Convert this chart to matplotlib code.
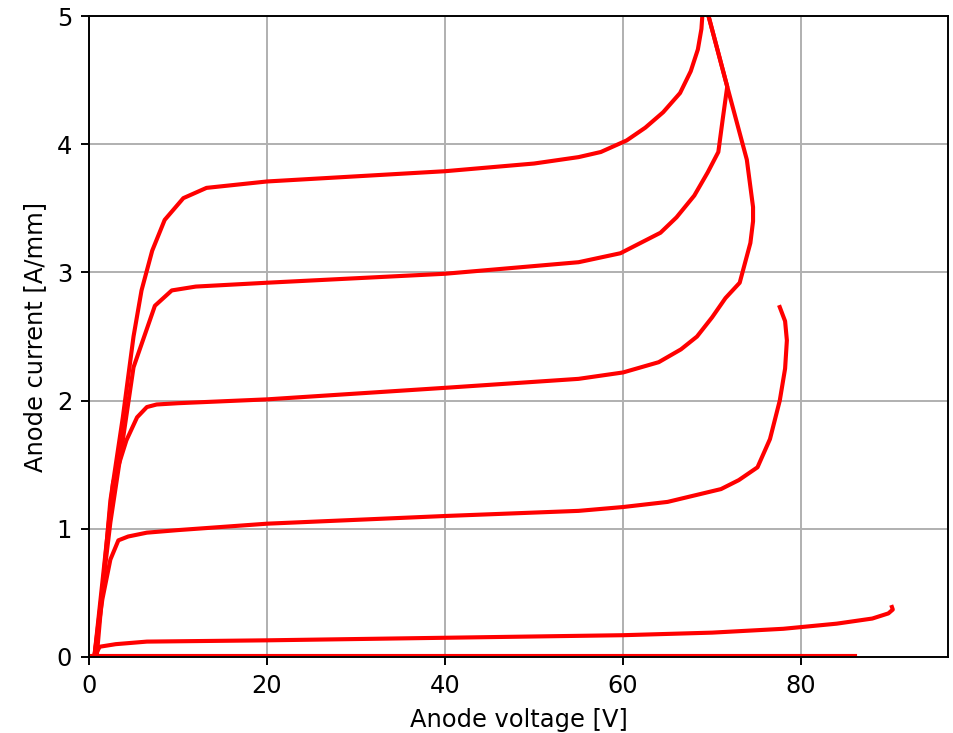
import matplotlib.pyplot as plt

# anode voltage [V] / anode current [A/mm] for each gate step
v_g0 = [0.0, 86.0]
i_g0 = [0.01, 0.01]

v_g1 = [0.6, 1.2, 3.0, 6.5, 20, 40, 60, 70, 78, 84, 88, 89.8, 90.3, 90.2]
i_g1 = [0.0, 0.08, 0.10, 0.12, 0.13, 0.15, 0.17, 0.19, 0.22, 0.26, 0.30, 0.34, 0.37, 0.39]

v_g2 = [0.6, 1.5, 2.4, 3.3, 4.4, 6.5, 10, 20, 40, 55, 60, 65, 68, 71, 73, 75.1, 76.5, 77.6, 78.2, 78.4, 78.2, 77.6]
i_g2 = [0.0, 0.45, 0.76, 0.91, 0.94, 0.97, 0.99, 1.04, 1.10, 1.14, 1.17, 1.21, 1.26, 1.31, 1.38, 1.48, 1.70, 2.00, 2.25, 2.47, 2.62, 2.73]

v_g3 = [0.6, 2.7, 4.2, 5.4, 6.5, 7.6, 10, 20, 40, 55, 60, 64, 66.5, 68.3, 70, 71.5, 73.1, 74.3, 74.6, 74.6, 73.9, 71.7, 69.6, 69.2]
i_g3 = [0.0, 1.36, 1.69, 1.87, 1.95, 1.97, 1.98, 2.01, 2.10, 2.17, 2.22, 2.30, 2.40, 2.50, 2.65, 2.80, 2.92, 3.23, 3.40, 3.51, 3.88, 4.45, 5.00, 5.15]

v_g4 = [0.6, 2.4, 3.6, 5.0, 7.4, 9.3, 12, 20, 40, 55, 59.7, 64.2, 66, 68, 69.5, 70.7, 71.2, 71.7, 69.6, 69.2]
i_g4 = [0.0, 1.05, 1.6, 2.26, 2.74, 2.86, 2.89, 2.92, 2.99, 3.08, 3.15, 3.31, 3.43, 3.60, 3.78, 3.94, 4.20, 4.45, 5.00, 5.15]

v_g5 = [0.9, 2.4, 3.8, 5.0, 5.9, 7.1, 8.5, 10.6, 13.2, 20, 40, 50, 55, 57.5, 60.4, 62.5, 64.5, 66.4, 67.6, 68.4, 68.8, 69.0]
i_g5 = [0.03, 1.22, 1.87, 2.50, 2.86, 3.17, 3.41, 3.58, 3.66, 3.71, 3.79, 3.85, 3.90, 3.94, 4.03, 4.13, 4.25, 4.40, 4.57, 4.74, 4.90, 5.10]

dpi = 174
fig = plt.figure(figsize=(954 / dpi, 733 / dpi), dpi=dpi)
ax = fig.add_axes([0.0933, 0.1037, 0.9004, 0.8743])

for v, i in [(v_g0, i_g0), (v_g1, i_g1), (v_g2, i_g2), (v_g3, i_g3), (v_g4, i_g4), (v_g5, i_g5)]:
    ax.plot(v, i, color='red', linewidth=1.7)

ax.set_xlim(0, 96.5)
ax.set_ylim(0, 5)
ax.set_xticks([0, 20, 40, 60, 80])
ax.set_yticks([0, 1, 2, 3, 4, 5])
ax.grid(True)
ax.set_xlabel('Anode voltage [V]')
ax.set_ylabel('Anode current [A/mm]')

fig.savefig('out.png', dpi=dpi)
